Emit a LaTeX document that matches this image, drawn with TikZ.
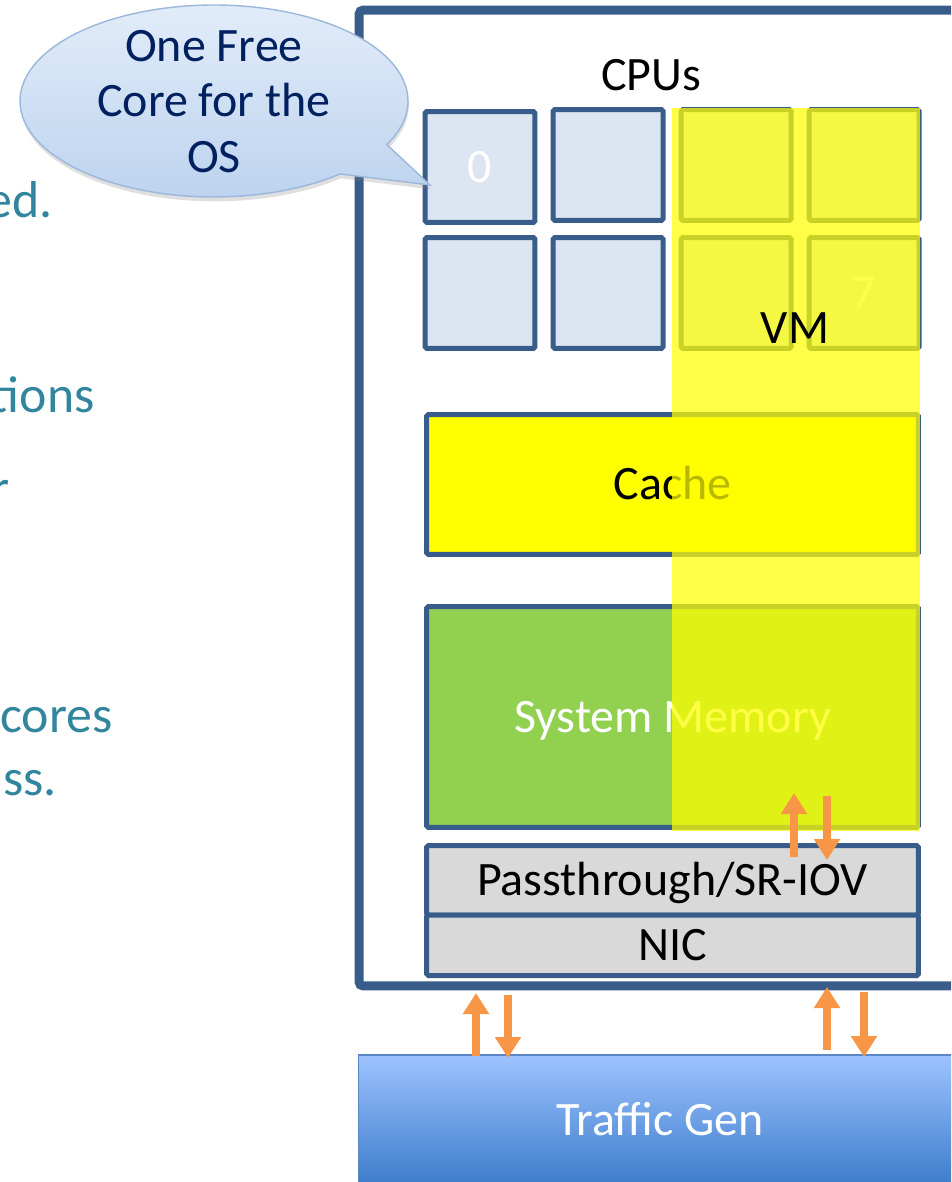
\documentclass[tikz,border=0pt]{standalone}
\usepackage{fontspec}
\setmainfont{Carlito}
\usetikzlibrary{arrows.meta,calc,shadows}
\definecolor{boxblue}{HTML}{385D8A}
\definecolor{cpufill}{HTML}{DCE6F2}
\definecolor{cacheyellow}{HTML}{FFFF00}
\definecolor{memgreen}{HTML}{92D050}
\definecolor{nicgray}{HTML}{D9D9D9}
\definecolor{arrorange}{HTML}{F79646}
\definecolor{tealtext}{HTML}{31859C}
\definecolor{navytext}{HTML}{002060}
\definecolor{bubbletop}{HTML}{E4EEFA}
\definecolor{bubblebot}{HTML}{BCD2EE}
\definecolor{bubbleline}{HTML}{9BB7DB}
\definecolor{gentop}{HTML}{9DC3FF}
\definecolor{genbot}{HTML}{3D7CCB}
\definecolor{genline}{HTML}{5B87C6}
\begin{document}
\begin{tikzpicture}[x=0.02cm,y=0.02cm,
  lbl/.style={font=\fontsize{27.3}{31.75}\selectfont, text height=22.9pt, text depth=5.3pt, inner sep=0pt},
  cpubox/.style={lbl, draw=boxblue, line width=0.1cm, rounded corners=1pt, fill=cpufill,
    minimum width=2.2cm, minimum height=2.22cm, text=white},
  widebox/.style={lbl, draw=boxblue, line width=0.1cm, rounded corners=1pt, minimum width=9.84cm},
  oarrow/.style={draw=arrorange, line width=0.17cm, -{Triangle[width=0.5cm,length=0.42cm]}},
  sidetext/.style={font=\fontsize{29.5}{35}\selectfont, text=tealtext, inner sep=0pt, anchor=base east}
]
\useasboundingbox (0,0) rectangle (951,-1182);
\clip (0,0) rectangle (951,-1182);

% host box
\node[draw=boxblue, line width=0.18cm, rounded corners=0.08cm, minimum width=16.82cm,
  minimum height=19.52cm, inner sep=0pt] (host) at (779.5,-498) {};

\node[lbl] (cpus) at (651,-75) {CPUs};

% CPU squares
\node[cpubox] (c0) at (480,-167) {0};
\node[cpubox] (c1) at (608,-165) {};
\node[cpubox] (c2) at (736,-165) {};
\node[cpubox] (c3) at (864,-165) {};
\node[cpubox] (c4) at (480,-293) {};
\node[cpubox] (c5) at (608,-293) {};
\node[cpubox] (c6) at (736,-293) {};
\node[cpubox] (c7) at (864,-293) {7};

% cache, memory, passthrough, nic
\node[widebox, fill=cacheyellow, minimum height=2.8cm] (cache) at (672.5,-484.5) {Cache};
\node[widebox, fill=memgreen, minimum height=4.42cm, text=white] (mem) at (672.5,-717) {System Memory};
\node[widebox, fill=nicgray, minimum height=1.39cm] (pt) at (672.5,-880.25) {Passthrough/SR-IOV};
\node[widebox, fill=nicgray, minimum height=1.21cm] (nic) at (672.5,-945.25) {NIC};

% VM overlay
\node[fill=cacheyellow, fill opacity=0.72, minimum width=4.96cm, minimum height=14.46cm, inner sep=0pt]
  (vmzone) at (796,-469.5) {};
\node[lbl] (vm) at (795,-328) {VM};

% traffic generator
\node[lbl, draw=genline, line width=0.6pt, top color=gentop, bottom color=genbot,
  minimum width=12.08cm, minimum height=2.6cm, text=white] (tgen) at (660,-1120) {Traffic Gen};

% arrows
\coordinate (a1s) at (476,-1056); \coordinate (a1e) at (476,-993);
\coordinate (a2s) at (508,-995);  \coordinate (a2e) at (508,-1058);
\coordinate (a3s) at (827,-1050); \coordinate (a3e) at (827,-987);
\coordinate (a4s) at (864,-992);  \coordinate (a4e) at (864,-1057);
\coordinate (a5s) at (794,-857);  \coordinate (a5e) at (794,-793);
\coordinate (a6s) at (827,-796);  \coordinate (a6e) at (827,-860);
\draw[oarrow] (a1s) -- (a1e);
\draw[oarrow] (a2s) -- (a2e);
\draw[oarrow] (a3s) -- (a3e);
\draw[oarrow] (a4s) -- (a4e);
\draw[oarrow] (a5s) -- (a5e);
\draw[oarrow] (a6s) -- (a6e);

% callout
\coordinate (bc) at (214,-101);
\coordinate (btip) at (430,-185);
\path[draw=bubbleline, line width=0.8pt, top color=bubbletop, bottom color=bubblebot,
  drop shadow={opacity=0.25, shadow xshift=0.5pt, shadow yshift=-2.5pt}]
  ($(bc)+(-27:3.88cm and 1.92cm)$) arc[start angle=-27, end angle=310.5, x radius=3.88cm, y radius=1.92cm]
  -- (btip) -- cycle;
\node[font=\fontsize{27.3}{31.75}\selectfont, text=navytext, align=center, inner sep=0pt]
  (bubble) at (214,-101.5) {One Free\\Core for the\\OS};

% side text fragments
\node[sidetext] (t1) at (53,-218) {ed.};
\node[sidetext] (t2) at (95,-412) {tions};
\node[sidetext] (t3) at (10,-505) {r};
\node[sidetext] (t4) at (113,-732) {cores};
\node[sidetext] (t5) at (57,-795) {ss.};
\end{tikzpicture}
\end{document}
